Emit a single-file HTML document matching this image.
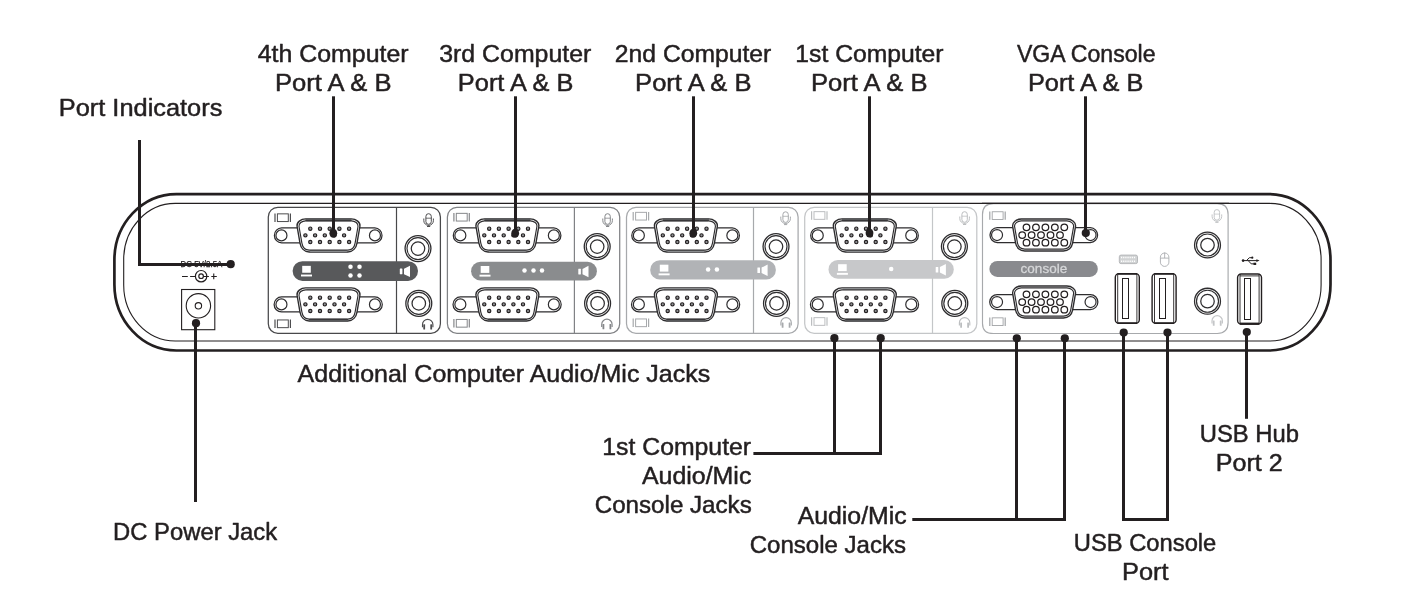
<!DOCTYPE html>
<html lang="en"><head><meta charset="utf-8"><title>KVM switch rear panel</title>
<style>html,body{margin:0;padding:0;background:#fff;overflow:hidden}svg{display:block}text{font-family:"Liberation Sans",sans-serif;fill:#231f20}</style>
</head><body>
<svg width="1402" height="612" viewBox="0 0 1402 612" style="will-change:transform">
<rect width="1402" height="612" fill="#fff"/>
<g id="device">
<rect x="114.4" y="194.1" width="1216.1" height="156.4" rx="62" ry="66" fill="#fff" stroke="#231f20" stroke-width="2.7"/>
<rect x="123.7" y="203.4" width="1197.4" height="137.6" rx="51.5" ry="56" fill="none" stroke="#231f20" stroke-width="1.1"/>
</g>
<g id="dc">
<text x="180.5" y="267.1" font-size="8.6" textLength="41.9" lengthAdjust="spacingAndGlyphs" stroke="#231f20" stroke-width="0.25">DC 5V/2.5A</text>
<g fill="none" stroke="#231f20" stroke-width="1.2">
<path d="M182 276.45h5.8M190.1 276.45H195.4M203.4 276.45H208.9M211.3 276.45h5.5M213.75 273.5v5.7" stroke-width="1.1"/>
<circle cx="201.1" cy="276.2" r="5.7"/><circle cx="201.1" cy="276.2" r="2.3"/>
</g>
<g fill="none" stroke="#231f20" stroke-width="1.1">
<rect x="181.6" y="289.5" width="33.2" height="40.2" fill="#fff"/>
<circle cx="198.4" cy="305.8" r="12.2"/><circle cx="198.4" cy="305.8" r="3.2"/>
</g></g>
<g id="module1">
<rect x="268.3" y="207.4" width="172.1" height="125.9" rx="9.5" fill="#fff" stroke="#48484a" stroke-width="1.25"/>
<path d="M396.5 207.4V333.3" stroke="#48484a" stroke-width="1.2" fill="none"/>
<g fill="none" stroke="#4d4d4f"><path d="M275 213.5v8.4M290.4 213.5v8.4" stroke-width="1.2"/><rect x="277.4" y="213.85" width="10.9" height="7.7" stroke-width="1.0"/></g>
<g fill="none" stroke="#4d4d4f"><path d="M275 319.6v8.4M290.4 319.6v8.4" stroke-width="1.2"/><rect x="277.4" y="319.95" width="10.9" height="7.7" stroke-width="1.0"/></g>
<g fill="none" stroke="#4d4d4f" stroke-width="1.0"><rect x="425.9" y="213.7" width="5.4" height="10.6" rx="2.7"/><path d="M425.9 218.2h5.4" stroke-width="0.8"/><path d="M423.8 218.5v2.1a4.8 4.8 0 0 0 9.6 0v-2.1"/><path d="M428.6 225.4v1.3M427 226.5h3.2"/></g>
<g fill="none" stroke="#4d4d4f" stroke-width="1.15"><path d="M422.5 327.2v-2.6a5.2 5.2 0 0 1 10.4 0v2.6"/></g><rect x="423.3" y="324.3" width="1.8" height="5.2" rx="0.5" fill="#4d4d4f"/><rect x="430.3" y="324.3" width="1.8" height="5.2" rx="0.5" fill="#4d4d4f"/>
<path d="M308.5 227.87H281.65A7.53 7.53 0 0 0 281.65 242.92H308.5" fill="#fff" stroke="#2e2d2f" stroke-width="1.25"/>
<path d="M348.5 227.87H374.75A7.53 7.53 0 0 1 374.75 242.92H348.5" fill="#fff" stroke="#2e2d2f" stroke-width="1.25"/>
<circle cx="281.45" cy="235.4" r="5.5" fill="#fff" stroke="#2e2d2f" stroke-width="1.2"/>
<circle cx="374.95" cy="235.4" r="5.5" fill="#fff" stroke="#2e2d2f" stroke-width="1.2"/>
<path d="M305.7 218.9L351.3 218.9C356.05 218.9 360.62 222.37 359.9 226.5L357 243.1C356.15 247.94 352.88 252 347.8 252L309.2 252C304.12 252 300.85 247.94 300 243.1L297.1 226.5C296.38 222.37 300.95 218.9 305.7 218.9Z" fill="#fff" stroke="#2e2d2f" stroke-width="1.4"/>
<path d="M306.6 219.9H350.4" stroke="#58595b" stroke-width="2.6" stroke-linecap="round" fill="none"/>
<path d="M310.1 251.1H346.9" stroke="#8a8c8e" stroke-width="1.6" fill="none"/>
<path d="M305.7 220.8L351.3 220.8C355 220.8 358.54 223.4 358 226.5L355.1 243.1C354.43 246.91 351.83 250.1 347.8 250.1L309.2 250.1C305.17 250.1 302.57 246.91 301.9 243.1L299 226.5C298.46 223.4 302 220.8 305.7 220.8Z" fill="none" stroke="#2e2d2f" stroke-width="1.15"/>
<circle cx="310.3" cy="228.65" r="1.65" fill="#939598" stroke="#231f20" stroke-width="1.15"/>
<circle cx="320" cy="228.65" r="1.65" fill="#939598" stroke="#231f20" stroke-width="1.15"/>
<circle cx="329.7" cy="228.65" r="1.65" fill="#939598" stroke="#231f20" stroke-width="1.15"/>
<circle cx="339.4" cy="228.65" r="1.65" fill="#939598" stroke="#231f20" stroke-width="1.15"/>
<circle cx="349.1" cy="228.65" r="1.65" fill="#939598" stroke="#231f20" stroke-width="1.15"/>
<circle cx="305.4" cy="235.35" r="1.65" fill="#939598" stroke="#231f20" stroke-width="1.15"/>
<circle cx="315.1" cy="235.35" r="1.65" fill="#939598" stroke="#231f20" stroke-width="1.15"/>
<circle cx="324.8" cy="235.35" r="1.65" fill="#939598" stroke="#231f20" stroke-width="1.15"/>
<circle cx="334.5" cy="235.35" r="1.65" fill="#939598" stroke="#231f20" stroke-width="1.15"/>
<circle cx="344.1" cy="235.35" r="1.65" fill="#939598" stroke="#231f20" stroke-width="1.15"/>
<circle cx="310.3" cy="242.05" r="1.65" fill="#939598" stroke="#231f20" stroke-width="1.15"/>
<circle cx="320" cy="242.05" r="1.65" fill="#939598" stroke="#231f20" stroke-width="1.15"/>
<circle cx="329.7" cy="242.05" r="1.65" fill="#939598" stroke="#231f20" stroke-width="1.15"/>
<circle cx="339.4" cy="242.05" r="1.65" fill="#939598" stroke="#231f20" stroke-width="1.15"/>
<circle cx="349.1" cy="242.05" r="1.65" fill="#939598" stroke="#231f20" stroke-width="1.15"/>
<path d="M308.5 296.88H281.65A7.52 7.52 0 0 0 281.65 311.92H308.5" fill="#fff" stroke="#2e2d2f" stroke-width="1.25"/>
<path d="M348.5 296.88H374.75A7.52 7.52 0 0 1 374.75 311.92H348.5" fill="#fff" stroke="#2e2d2f" stroke-width="1.25"/>
<circle cx="281.45" cy="304.4" r="5.5" fill="#fff" stroke="#2e2d2f" stroke-width="1.2"/>
<circle cx="374.95" cy="304.4" r="5.5" fill="#fff" stroke="#2e2d2f" stroke-width="1.2"/>
<path d="M305.7 287.9L351.3 287.9C356.05 287.9 360.62 291.37 359.9 295.5L357 312.1C356.15 316.94 352.88 321 347.8 321L309.2 321C304.12 321 300.85 316.94 300 312.1L297.1 295.5C296.38 291.37 300.95 287.9 305.7 287.9Z" fill="#fff" stroke="#2e2d2f" stroke-width="1.4"/>
<path d="M310.1 320H346.9" stroke="#58595b" stroke-width="2.6" stroke-linecap="round" fill="none"/>
<path d="M306.6 288.8H350.4" stroke="#8a8c8e" stroke-width="1.6" fill="none"/>
<path d="M305.7 289.8L351.3 289.8C355 289.8 358.54 292.4 358 295.5L355.1 312.1C354.43 315.91 351.83 319.1 347.8 319.1L309.2 319.1C305.17 319.1 302.57 315.91 301.9 312.1L299 295.5C298.46 292.4 302 289.8 305.7 289.8Z" fill="none" stroke="#2e2d2f" stroke-width="1.15"/>
<circle cx="310.3" cy="297.65" r="1.65" fill="#939598" stroke="#231f20" stroke-width="1.15"/>
<circle cx="320" cy="297.65" r="1.65" fill="#939598" stroke="#231f20" stroke-width="1.15"/>
<circle cx="329.7" cy="297.65" r="1.65" fill="#939598" stroke="#231f20" stroke-width="1.15"/>
<circle cx="339.4" cy="297.65" r="1.65" fill="#939598" stroke="#231f20" stroke-width="1.15"/>
<circle cx="349.1" cy="297.65" r="1.65" fill="#939598" stroke="#231f20" stroke-width="1.15"/>
<circle cx="305.4" cy="304.35" r="1.65" fill="#939598" stroke="#231f20" stroke-width="1.15"/>
<circle cx="315.1" cy="304.35" r="1.65" fill="#939598" stroke="#231f20" stroke-width="1.15"/>
<circle cx="324.8" cy="304.35" r="1.65" fill="#939598" stroke="#231f20" stroke-width="1.15"/>
<circle cx="334.5" cy="304.35" r="1.65" fill="#939598" stroke="#231f20" stroke-width="1.15"/>
<circle cx="344.1" cy="304.35" r="1.65" fill="#939598" stroke="#231f20" stroke-width="1.15"/>
<circle cx="310.3" cy="311.05" r="1.65" fill="#939598" stroke="#231f20" stroke-width="1.15"/>
<circle cx="320" cy="311.05" r="1.65" fill="#939598" stroke="#231f20" stroke-width="1.15"/>
<circle cx="329.7" cy="311.05" r="1.65" fill="#939598" stroke="#231f20" stroke-width="1.15"/>
<circle cx="339.4" cy="311.05" r="1.65" fill="#939598" stroke="#231f20" stroke-width="1.15"/>
<circle cx="349.1" cy="311.05" r="1.65" fill="#939598" stroke="#231f20" stroke-width="1.15"/>
<circle cx="418" cy="248.6" r="12.95" fill="#fff" stroke="#2e2d2f" stroke-width="1.3"/>
<circle cx="418" cy="248.6" r="11" fill="none" stroke="#2e2d2f" stroke-width="1.15"/>
<circle cx="418" cy="248.6" r="6.75" fill="none" stroke="#2e2d2f" stroke-width="1.25"/>
<circle cx="418.8" cy="303.4" r="12.95" fill="#fff" stroke="#2e2d2f" stroke-width="1.3"/>
<circle cx="418.8" cy="303.4" r="11" fill="none" stroke="#2e2d2f" stroke-width="1.15"/>
<circle cx="418.8" cy="303.4" r="6.75" fill="none" stroke="#2e2d2f" stroke-width="1.25"/>
<rect x="292.6" y="261.2" width="125.4" height="19.7" rx="9.85" fill="#58595b"/>
<g fill="#fff"><rect x="302.2" y="265.85" width="8.6" height="6.9"/><rect x="301" y="274.55" width="11" height="1.9"/><circle cx="350.5" cy="266.65" r="2.25"/><circle cx="359.5" cy="266.65" r="2.25"/><circle cx="350.5" cy="275.45" r="2.25"/><circle cx="359.5" cy="275.45" r="2.25"/><rect x="399.8" y="268.55" width="2.6" height="5.7" rx="0.4"/><path d="M404 268.75L410 265.65V277.05L404 274.15Z"/></g>
</g>
<g id="module2">
<rect x="447.4" y="207.4" width="172.3" height="125.9" rx="9.5" fill="#fff" stroke="#808285" stroke-width="1.25"/>
<path d="M574.4 207.4V333.3" stroke="#808285" stroke-width="1.2" fill="none"/>
<g fill="none" stroke="#85878a"><path d="M453.9 213v8.4M469.3 213v8.4" stroke-width="1.2"/><rect x="456.3" y="213.35" width="10.9" height="7.7" stroke-width="1.0"/></g>
<g fill="none" stroke="#85878a"><path d="M453.9 319.1v8.4M469.3 319.1v8.4" stroke-width="1.2"/><rect x="456.3" y="319.45" width="10.9" height="7.7" stroke-width="1.0"/></g>
<g fill="none" stroke="#85878a" stroke-width="1.0"><rect x="604.9" y="213.7" width="5.4" height="10.6" rx="2.7"/><path d="M604.9 218.2h5.4" stroke-width="0.8"/><path d="M602.8 218.5v2.1a4.8 4.8 0 0 0 9.6 0v-2.1"/><path d="M607.6 225.4v1.3M606 226.5h3.2"/></g>
<g fill="none" stroke="#85878a" stroke-width="1.15"><path d="M601.7 327v-2.6a5.2 5.2 0 0 1 10.4 0v2.6"/></g><rect x="602.5" y="324.1" width="1.8" height="5.2" rx="0.5" fill="#85878a"/><rect x="609.5" y="324.1" width="1.8" height="5.2" rx="0.5" fill="#85878a"/>
<path d="M487.4 227.87H460.55A7.53 7.53 0 0 0 460.55 242.92H487.4" fill="#fff" stroke="#2e2d2f" stroke-width="1.25"/>
<path d="M527.4 227.87H553.65A7.53 7.53 0 0 1 553.65 242.92H527.4" fill="#fff" stroke="#2e2d2f" stroke-width="1.25"/>
<circle cx="460.35" cy="235.4" r="5.5" fill="#fff" stroke="#2e2d2f" stroke-width="1.2"/>
<circle cx="553.85" cy="235.4" r="5.5" fill="#fff" stroke="#2e2d2f" stroke-width="1.2"/>
<path d="M484.6 218.9L530.2 218.9C534.95 218.9 539.52 222.37 538.8 226.5L535.9 243.1C535.05 247.94 531.78 252 526.7 252L488.1 252C483.02 252 479.75 247.94 478.9 243.1L476 226.5C475.28 222.37 479.85 218.9 484.6 218.9Z" fill="#fff" stroke="#2e2d2f" stroke-width="1.4"/>
<path d="M485.5 219.9H529.3" stroke="#58595b" stroke-width="2.6" stroke-linecap="round" fill="none"/>
<path d="M489 251.1H525.8" stroke="#8a8c8e" stroke-width="1.6" fill="none"/>
<path d="M484.6 220.8L530.2 220.8C533.9 220.8 537.44 223.4 536.9 226.5L534 243.1C533.33 246.91 530.73 250.1 526.7 250.1L488.1 250.1C484.07 250.1 481.47 246.91 480.8 243.1L477.9 226.5C477.36 223.4 480.9 220.8 484.6 220.8Z" fill="none" stroke="#2e2d2f" stroke-width="1.15"/>
<circle cx="489.2" cy="228.65" r="1.65" fill="#939598" stroke="#231f20" stroke-width="1.15"/>
<circle cx="498.9" cy="228.65" r="1.65" fill="#939598" stroke="#231f20" stroke-width="1.15"/>
<circle cx="508.6" cy="228.65" r="1.65" fill="#939598" stroke="#231f20" stroke-width="1.15"/>
<circle cx="518.3" cy="228.65" r="1.65" fill="#939598" stroke="#231f20" stroke-width="1.15"/>
<circle cx="528" cy="228.65" r="1.65" fill="#939598" stroke="#231f20" stroke-width="1.15"/>
<circle cx="484.3" cy="235.35" r="1.65" fill="#939598" stroke="#231f20" stroke-width="1.15"/>
<circle cx="494" cy="235.35" r="1.65" fill="#939598" stroke="#231f20" stroke-width="1.15"/>
<circle cx="503.7" cy="235.35" r="1.65" fill="#939598" stroke="#231f20" stroke-width="1.15"/>
<circle cx="513.4" cy="235.35" r="1.65" fill="#939598" stroke="#231f20" stroke-width="1.15"/>
<circle cx="523" cy="235.35" r="1.65" fill="#939598" stroke="#231f20" stroke-width="1.15"/>
<circle cx="489.2" cy="242.05" r="1.65" fill="#939598" stroke="#231f20" stroke-width="1.15"/>
<circle cx="498.9" cy="242.05" r="1.65" fill="#939598" stroke="#231f20" stroke-width="1.15"/>
<circle cx="508.6" cy="242.05" r="1.65" fill="#939598" stroke="#231f20" stroke-width="1.15"/>
<circle cx="518.3" cy="242.05" r="1.65" fill="#939598" stroke="#231f20" stroke-width="1.15"/>
<circle cx="528" cy="242.05" r="1.65" fill="#939598" stroke="#231f20" stroke-width="1.15"/>
<path d="M487.4 296.88H460.55A7.52 7.52 0 0 0 460.55 311.92H487.4" fill="#fff" stroke="#2e2d2f" stroke-width="1.25"/>
<path d="M527.4 296.88H553.65A7.52 7.52 0 0 1 553.65 311.92H527.4" fill="#fff" stroke="#2e2d2f" stroke-width="1.25"/>
<circle cx="460.35" cy="304.4" r="5.5" fill="#fff" stroke="#2e2d2f" stroke-width="1.2"/>
<circle cx="553.85" cy="304.4" r="5.5" fill="#fff" stroke="#2e2d2f" stroke-width="1.2"/>
<path d="M484.6 287.9L530.2 287.9C534.95 287.9 539.52 291.37 538.8 295.5L535.9 312.1C535.05 316.94 531.78 321 526.7 321L488.1 321C483.02 321 479.75 316.94 478.9 312.1L476 295.5C475.28 291.37 479.85 287.9 484.6 287.9Z" fill="#fff" stroke="#2e2d2f" stroke-width="1.4"/>
<path d="M489 320H525.8" stroke="#58595b" stroke-width="2.6" stroke-linecap="round" fill="none"/>
<path d="M485.5 288.8H529.3" stroke="#8a8c8e" stroke-width="1.6" fill="none"/>
<path d="M484.6 289.8L530.2 289.8C533.9 289.8 537.44 292.4 536.9 295.5L534 312.1C533.33 315.91 530.73 319.1 526.7 319.1L488.1 319.1C484.07 319.1 481.47 315.91 480.8 312.1L477.9 295.5C477.36 292.4 480.9 289.8 484.6 289.8Z" fill="none" stroke="#2e2d2f" stroke-width="1.15"/>
<circle cx="489.2" cy="297.65" r="1.65" fill="#939598" stroke="#231f20" stroke-width="1.15"/>
<circle cx="498.9" cy="297.65" r="1.65" fill="#939598" stroke="#231f20" stroke-width="1.15"/>
<circle cx="508.6" cy="297.65" r="1.65" fill="#939598" stroke="#231f20" stroke-width="1.15"/>
<circle cx="518.3" cy="297.65" r="1.65" fill="#939598" stroke="#231f20" stroke-width="1.15"/>
<circle cx="528" cy="297.65" r="1.65" fill="#939598" stroke="#231f20" stroke-width="1.15"/>
<circle cx="484.3" cy="304.35" r="1.65" fill="#939598" stroke="#231f20" stroke-width="1.15"/>
<circle cx="494" cy="304.35" r="1.65" fill="#939598" stroke="#231f20" stroke-width="1.15"/>
<circle cx="503.7" cy="304.35" r="1.65" fill="#939598" stroke="#231f20" stroke-width="1.15"/>
<circle cx="513.4" cy="304.35" r="1.65" fill="#939598" stroke="#231f20" stroke-width="1.15"/>
<circle cx="523" cy="304.35" r="1.65" fill="#939598" stroke="#231f20" stroke-width="1.15"/>
<circle cx="489.2" cy="311.05" r="1.65" fill="#939598" stroke="#231f20" stroke-width="1.15"/>
<circle cx="498.9" cy="311.05" r="1.65" fill="#939598" stroke="#231f20" stroke-width="1.15"/>
<circle cx="508.6" cy="311.05" r="1.65" fill="#939598" stroke="#231f20" stroke-width="1.15"/>
<circle cx="518.3" cy="311.05" r="1.65" fill="#939598" stroke="#231f20" stroke-width="1.15"/>
<circle cx="528" cy="311.05" r="1.65" fill="#939598" stroke="#231f20" stroke-width="1.15"/>
<circle cx="597.2" cy="246.6" r="12.95" fill="#fff" stroke="#2e2d2f" stroke-width="1.3"/>
<circle cx="597.2" cy="246.6" r="11" fill="none" stroke="#2e2d2f" stroke-width="1.15"/>
<circle cx="597.2" cy="246.6" r="6.75" fill="none" stroke="#2e2d2f" stroke-width="1.25"/>
<circle cx="597.6" cy="303.4" r="12.95" fill="#fff" stroke="#2e2d2f" stroke-width="1.3"/>
<circle cx="597.6" cy="303.4" r="11" fill="none" stroke="#2e2d2f" stroke-width="1.15"/>
<circle cx="597.6" cy="303.4" r="6.75" fill="none" stroke="#2e2d2f" stroke-width="1.25"/>
<rect x="471.1" y="261.8" width="125.8" height="18.8" rx="9.4" fill="#8a8c8e"/>
<g fill="#fff"><rect x="480.7" y="266" width="8.6" height="6.9"/><rect x="479.5" y="274.7" width="11" height="1.9"/><circle cx="524.5" cy="270.6" r="2.25"/><circle cx="533.5" cy="270.6" r="2.25"/><circle cx="542" cy="270.6" r="2.25"/><rect x="578.3" y="268.7" width="2.6" height="5.7" rx="0.4"/><path d="M582.5 268.9L588.5 265.8V277.2L582.5 274.3Z"/></g>
</g>
<g id="module3">
<rect x="626.5" y="207.4" width="171.6" height="125.9" rx="9.5" fill="#fff" stroke="#a7a9ac" stroke-width="1.25"/>
<path d="M753.5 207.4V333.3" stroke="#a7a9ac" stroke-width="1.2" fill="none"/>
<g fill="none" stroke="#a7a9ac"><path d="M633.2 212v8.4M648.6 212v8.4" stroke-width="1.2"/><rect x="635.6" y="212.35" width="10.9" height="7.7" stroke-width="1.0"/></g>
<g fill="none" stroke="#a7a9ac"><path d="M633.2 318.6v8.4M648.6 318.6v8.4" stroke-width="1.2"/><rect x="635.6" y="318.95" width="10.9" height="7.7" stroke-width="1.0"/></g>
<g fill="none" stroke="#a7a9ac" stroke-width="1.0"><rect x="782.9" y="211.8" width="5.4" height="10.6" rx="2.7"/><path d="M782.9 216.3h5.4" stroke-width="0.8"/><path d="M780.8 216.6v2.1a4.8 4.8 0 0 0 9.6 0v-2.1"/><path d="M785.6 223.5v1.3M784 224.6h3.2"/></g>
<g fill="none" stroke="#a7a9ac" stroke-width="1.15"><path d="M780.9 325.4v-2.6a5.2 5.2 0 0 1 10.4 0v2.6"/></g><rect x="781.7" y="322.5" width="1.8" height="5.2" rx="0.5" fill="#a7a9ac"/><rect x="788.7" y="322.5" width="1.8" height="5.2" rx="0.5" fill="#a7a9ac"/>
<path d="M665.9 227.87H639.05A7.53 7.53 0 0 0 639.05 242.92H665.9" fill="#fff" stroke="#2e2d2f" stroke-width="1.25"/>
<path d="M705.9 227.87H732.15A7.53 7.53 0 0 1 732.15 242.92H705.9" fill="#fff" stroke="#2e2d2f" stroke-width="1.25"/>
<circle cx="638.85" cy="235.4" r="5.5" fill="#fff" stroke="#2e2d2f" stroke-width="1.2"/>
<circle cx="732.35" cy="235.4" r="5.5" fill="#fff" stroke="#2e2d2f" stroke-width="1.2"/>
<path d="M663.1 218.9L708.7 218.9C713.45 218.9 718.02 222.37 717.3 226.5L714.4 243.1C713.55 247.94 710.28 252 705.2 252L666.6 252C661.52 252 658.25 247.94 657.4 243.1L654.5 226.5C653.78 222.37 658.35 218.9 663.1 218.9Z" fill="#fff" stroke="#2e2d2f" stroke-width="1.4"/>
<path d="M664 219.9H707.8" stroke="#58595b" stroke-width="2.6" stroke-linecap="round" fill="none"/>
<path d="M667.5 251.1H704.3" stroke="#8a8c8e" stroke-width="1.6" fill="none"/>
<path d="M663.1 220.8L708.7 220.8C712.4 220.8 715.94 223.4 715.4 226.5L712.5 243.1C711.83 246.91 709.23 250.1 705.2 250.1L666.6 250.1C662.57 250.1 659.97 246.91 659.3 243.1L656.4 226.5C655.86 223.4 659.4 220.8 663.1 220.8Z" fill="none" stroke="#2e2d2f" stroke-width="1.15"/>
<circle cx="667.7" cy="228.65" r="1.65" fill="#939598" stroke="#231f20" stroke-width="1.15"/>
<circle cx="677.4" cy="228.65" r="1.65" fill="#939598" stroke="#231f20" stroke-width="1.15"/>
<circle cx="687.1" cy="228.65" r="1.65" fill="#939598" stroke="#231f20" stroke-width="1.15"/>
<circle cx="696.8" cy="228.65" r="1.65" fill="#939598" stroke="#231f20" stroke-width="1.15"/>
<circle cx="706.5" cy="228.65" r="1.65" fill="#939598" stroke="#231f20" stroke-width="1.15"/>
<circle cx="662.8" cy="235.35" r="1.65" fill="#939598" stroke="#231f20" stroke-width="1.15"/>
<circle cx="672.5" cy="235.35" r="1.65" fill="#939598" stroke="#231f20" stroke-width="1.15"/>
<circle cx="682.2" cy="235.35" r="1.65" fill="#939598" stroke="#231f20" stroke-width="1.15"/>
<circle cx="691.9" cy="235.35" r="1.65" fill="#939598" stroke="#231f20" stroke-width="1.15"/>
<circle cx="701.5" cy="235.35" r="1.65" fill="#939598" stroke="#231f20" stroke-width="1.15"/>
<circle cx="667.7" cy="242.05" r="1.65" fill="#939598" stroke="#231f20" stroke-width="1.15"/>
<circle cx="677.4" cy="242.05" r="1.65" fill="#939598" stroke="#231f20" stroke-width="1.15"/>
<circle cx="687.1" cy="242.05" r="1.65" fill="#939598" stroke="#231f20" stroke-width="1.15"/>
<circle cx="696.8" cy="242.05" r="1.65" fill="#939598" stroke="#231f20" stroke-width="1.15"/>
<circle cx="706.5" cy="242.05" r="1.65" fill="#939598" stroke="#231f20" stroke-width="1.15"/>
<path d="M665.9 296.88H639.05A7.52 7.52 0 0 0 639.05 311.92H665.9" fill="#fff" stroke="#2e2d2f" stroke-width="1.25"/>
<path d="M705.9 296.88H732.15A7.52 7.52 0 0 1 732.15 311.92H705.9" fill="#fff" stroke="#2e2d2f" stroke-width="1.25"/>
<circle cx="638.85" cy="304.4" r="5.5" fill="#fff" stroke="#2e2d2f" stroke-width="1.2"/>
<circle cx="732.35" cy="304.4" r="5.5" fill="#fff" stroke="#2e2d2f" stroke-width="1.2"/>
<path d="M663.1 287.9L708.7 287.9C713.45 287.9 718.02 291.37 717.3 295.5L714.4 312.1C713.55 316.94 710.28 321 705.2 321L666.6 321C661.52 321 658.25 316.94 657.4 312.1L654.5 295.5C653.78 291.37 658.35 287.9 663.1 287.9Z" fill="#fff" stroke="#2e2d2f" stroke-width="1.4"/>
<path d="M667.5 320H704.3" stroke="#58595b" stroke-width="2.6" stroke-linecap="round" fill="none"/>
<path d="M664 288.8H707.8" stroke="#8a8c8e" stroke-width="1.6" fill="none"/>
<path d="M663.1 289.8L708.7 289.8C712.4 289.8 715.94 292.4 715.4 295.5L712.5 312.1C711.83 315.91 709.23 319.1 705.2 319.1L666.6 319.1C662.57 319.1 659.97 315.91 659.3 312.1L656.4 295.5C655.86 292.4 659.4 289.8 663.1 289.8Z" fill="none" stroke="#2e2d2f" stroke-width="1.15"/>
<circle cx="667.7" cy="297.65" r="1.65" fill="#939598" stroke="#231f20" stroke-width="1.15"/>
<circle cx="677.4" cy="297.65" r="1.65" fill="#939598" stroke="#231f20" stroke-width="1.15"/>
<circle cx="687.1" cy="297.65" r="1.65" fill="#939598" stroke="#231f20" stroke-width="1.15"/>
<circle cx="696.8" cy="297.65" r="1.65" fill="#939598" stroke="#231f20" stroke-width="1.15"/>
<circle cx="706.5" cy="297.65" r="1.65" fill="#939598" stroke="#231f20" stroke-width="1.15"/>
<circle cx="662.8" cy="304.35" r="1.65" fill="#939598" stroke="#231f20" stroke-width="1.15"/>
<circle cx="672.5" cy="304.35" r="1.65" fill="#939598" stroke="#231f20" stroke-width="1.15"/>
<circle cx="682.2" cy="304.35" r="1.65" fill="#939598" stroke="#231f20" stroke-width="1.15"/>
<circle cx="691.9" cy="304.35" r="1.65" fill="#939598" stroke="#231f20" stroke-width="1.15"/>
<circle cx="701.5" cy="304.35" r="1.65" fill="#939598" stroke="#231f20" stroke-width="1.15"/>
<circle cx="667.7" cy="311.05" r="1.65" fill="#939598" stroke="#231f20" stroke-width="1.15"/>
<circle cx="677.4" cy="311.05" r="1.65" fill="#939598" stroke="#231f20" stroke-width="1.15"/>
<circle cx="687.1" cy="311.05" r="1.65" fill="#939598" stroke="#231f20" stroke-width="1.15"/>
<circle cx="696.8" cy="311.05" r="1.65" fill="#939598" stroke="#231f20" stroke-width="1.15"/>
<circle cx="706.5" cy="311.05" r="1.65" fill="#939598" stroke="#231f20" stroke-width="1.15"/>
<circle cx="776" cy="246.6" r="12.95" fill="#fff" stroke="#2e2d2f" stroke-width="1.3"/>
<circle cx="776" cy="246.6" r="11" fill="none" stroke="#2e2d2f" stroke-width="1.15"/>
<circle cx="776" cy="246.6" r="6.75" fill="none" stroke="#2e2d2f" stroke-width="1.25"/>
<circle cx="776.5" cy="303.4" r="12.95" fill="#fff" stroke="#2e2d2f" stroke-width="1.3"/>
<circle cx="776.5" cy="303.4" r="11" fill="none" stroke="#2e2d2f" stroke-width="1.15"/>
<circle cx="776.5" cy="303.4" r="6.75" fill="none" stroke="#2e2d2f" stroke-width="1.25"/>
<rect x="650.2" y="260.2" width="125.7" height="19.4" rx="9.7" fill="#b1b3b6"/>
<g fill="#fff"><rect x="659.8" y="264.7" width="8.6" height="6.9"/><rect x="658.6" y="273.4" width="11" height="1.9"/><circle cx="708.1" cy="269.6" r="2.25"/><circle cx="716.9" cy="269.6" r="2.25"/><rect x="757.4" y="267.4" width="2.6" height="5.7" rx="0.4"/><path d="M761.6 267.6L767.6 264.5V275.9L761.6 273Z"/></g>
</g>
<g id="module4">
<rect x="804.7" y="207.4" width="172.1" height="125.9" rx="9.5" fill="#fff" stroke="#c4c6c8" stroke-width="1.25"/>
<path d="M932.5 207.4V333.3" stroke="#c4c6c8" stroke-width="1.2" fill="none"/>
<g fill="none" stroke="#bcbec0"><path d="M811.6 211.3v8.4M827 211.3v8.4" stroke-width="1.2"/><rect x="814" y="211.65" width="10.9" height="7.7" stroke-width="1.0"/></g>
<g fill="none" stroke="#bcbec0"><path d="M811.6 317.3v8.4M827 317.3v8.4" stroke-width="1.2"/><rect x="814" y="317.65" width="10.9" height="7.7" stroke-width="1.0"/></g>
<g fill="none" stroke="#bcbec0" stroke-width="1.0"><rect x="961.9" y="211.7" width="5.4" height="10.6" rx="2.7"/><path d="M961.9 216.2h5.4" stroke-width="0.8"/><path d="M959.8 216.5v2.1a4.8 4.8 0 0 0 9.6 0v-2.1"/><path d="M964.6 223.4v1.3M963 224.5h3.2"/></g>
<g fill="none" stroke="#bcbec0" stroke-width="1.15"><path d="M959.4 325.4v-2.6a5.2 5.2 0 0 1 10.4 0v2.6"/></g><rect x="960.2" y="322.5" width="1.8" height="5.2" rx="0.5" fill="#bcbec0"/><rect x="967.2" y="322.5" width="1.8" height="5.2" rx="0.5" fill="#bcbec0"/>
<path d="M844.8 227.87H817.95A7.53 7.53 0 0 0 817.95 242.92H844.8" fill="#fff" stroke="#2e2d2f" stroke-width="1.25"/>
<path d="M884.8 227.87H911.05A7.53 7.53 0 0 1 911.05 242.92H884.8" fill="#fff" stroke="#2e2d2f" stroke-width="1.25"/>
<circle cx="817.75" cy="235.4" r="5.5" fill="#fff" stroke="#2e2d2f" stroke-width="1.2"/>
<circle cx="911.25" cy="235.4" r="5.5" fill="#fff" stroke="#2e2d2f" stroke-width="1.2"/>
<path d="M842 218.9L887.6 218.9C892.35 218.9 896.92 222.37 896.2 226.5L893.3 243.1C892.45 247.94 889.18 252 884.1 252L845.5 252C840.42 252 837.15 247.94 836.3 243.1L833.4 226.5C832.68 222.37 837.25 218.9 842 218.9Z" fill="#fff" stroke="#2e2d2f" stroke-width="1.4"/>
<path d="M842.9 219.9H886.7" stroke="#58595b" stroke-width="2.6" stroke-linecap="round" fill="none"/>
<path d="M846.4 251.1H883.2" stroke="#8a8c8e" stroke-width="1.6" fill="none"/>
<path d="M842 220.8L887.6 220.8C891.3 220.8 894.84 223.4 894.3 226.5L891.4 243.1C890.73 246.91 888.13 250.1 884.1 250.1L845.5 250.1C841.47 250.1 838.87 246.91 838.2 243.1L835.3 226.5C834.76 223.4 838.3 220.8 842 220.8Z" fill="none" stroke="#2e2d2f" stroke-width="1.15"/>
<circle cx="846.6" cy="228.65" r="1.65" fill="#939598" stroke="#231f20" stroke-width="1.15"/>
<circle cx="856.3" cy="228.65" r="1.65" fill="#939598" stroke="#231f20" stroke-width="1.15"/>
<circle cx="866" cy="228.65" r="1.65" fill="#939598" stroke="#231f20" stroke-width="1.15"/>
<circle cx="875.7" cy="228.65" r="1.65" fill="#939598" stroke="#231f20" stroke-width="1.15"/>
<circle cx="885.4" cy="228.65" r="1.65" fill="#939598" stroke="#231f20" stroke-width="1.15"/>
<circle cx="841.7" cy="235.35" r="1.65" fill="#939598" stroke="#231f20" stroke-width="1.15"/>
<circle cx="851.4" cy="235.35" r="1.65" fill="#939598" stroke="#231f20" stroke-width="1.15"/>
<circle cx="861.1" cy="235.35" r="1.65" fill="#939598" stroke="#231f20" stroke-width="1.15"/>
<circle cx="870.8" cy="235.35" r="1.65" fill="#939598" stroke="#231f20" stroke-width="1.15"/>
<circle cx="880.4" cy="235.35" r="1.65" fill="#939598" stroke="#231f20" stroke-width="1.15"/>
<circle cx="846.6" cy="242.05" r="1.65" fill="#939598" stroke="#231f20" stroke-width="1.15"/>
<circle cx="856.3" cy="242.05" r="1.65" fill="#939598" stroke="#231f20" stroke-width="1.15"/>
<circle cx="866" cy="242.05" r="1.65" fill="#939598" stroke="#231f20" stroke-width="1.15"/>
<circle cx="875.7" cy="242.05" r="1.65" fill="#939598" stroke="#231f20" stroke-width="1.15"/>
<circle cx="885.4" cy="242.05" r="1.65" fill="#939598" stroke="#231f20" stroke-width="1.15"/>
<path d="M844.8 296.88H817.95A7.52 7.52 0 0 0 817.95 311.92H844.8" fill="#fff" stroke="#2e2d2f" stroke-width="1.25"/>
<path d="M884.8 296.88H911.05A7.52 7.52 0 0 1 911.05 311.92H884.8" fill="#fff" stroke="#2e2d2f" stroke-width="1.25"/>
<circle cx="817.75" cy="304.4" r="5.5" fill="#fff" stroke="#2e2d2f" stroke-width="1.2"/>
<circle cx="911.25" cy="304.4" r="5.5" fill="#fff" stroke="#2e2d2f" stroke-width="1.2"/>
<path d="M842 287.9L887.6 287.9C892.35 287.9 896.92 291.37 896.2 295.5L893.3 312.1C892.45 316.94 889.18 321 884.1 321L845.5 321C840.42 321 837.15 316.94 836.3 312.1L833.4 295.5C832.68 291.37 837.25 287.9 842 287.9Z" fill="#fff" stroke="#2e2d2f" stroke-width="1.4"/>
<path d="M846.4 320H883.2" stroke="#58595b" stroke-width="2.6" stroke-linecap="round" fill="none"/>
<path d="M842.9 288.8H886.7" stroke="#8a8c8e" stroke-width="1.6" fill="none"/>
<path d="M842 289.8L887.6 289.8C891.3 289.8 894.84 292.4 894.3 295.5L891.4 312.1C890.73 315.91 888.13 319.1 884.1 319.1L845.5 319.1C841.47 319.1 838.87 315.91 838.2 312.1L835.3 295.5C834.76 292.4 838.3 289.8 842 289.8Z" fill="none" stroke="#2e2d2f" stroke-width="1.15"/>
<circle cx="846.6" cy="297.65" r="1.65" fill="#939598" stroke="#231f20" stroke-width="1.15"/>
<circle cx="856.3" cy="297.65" r="1.65" fill="#939598" stroke="#231f20" stroke-width="1.15"/>
<circle cx="866" cy="297.65" r="1.65" fill="#939598" stroke="#231f20" stroke-width="1.15"/>
<circle cx="875.7" cy="297.65" r="1.65" fill="#939598" stroke="#231f20" stroke-width="1.15"/>
<circle cx="885.4" cy="297.65" r="1.65" fill="#939598" stroke="#231f20" stroke-width="1.15"/>
<circle cx="841.7" cy="304.35" r="1.65" fill="#939598" stroke="#231f20" stroke-width="1.15"/>
<circle cx="851.4" cy="304.35" r="1.65" fill="#939598" stroke="#231f20" stroke-width="1.15"/>
<circle cx="861.1" cy="304.35" r="1.65" fill="#939598" stroke="#231f20" stroke-width="1.15"/>
<circle cx="870.8" cy="304.35" r="1.65" fill="#939598" stroke="#231f20" stroke-width="1.15"/>
<circle cx="880.4" cy="304.35" r="1.65" fill="#939598" stroke="#231f20" stroke-width="1.15"/>
<circle cx="846.6" cy="311.05" r="1.65" fill="#939598" stroke="#231f20" stroke-width="1.15"/>
<circle cx="856.3" cy="311.05" r="1.65" fill="#939598" stroke="#231f20" stroke-width="1.15"/>
<circle cx="866" cy="311.05" r="1.65" fill="#939598" stroke="#231f20" stroke-width="1.15"/>
<circle cx="875.7" cy="311.05" r="1.65" fill="#939598" stroke="#231f20" stroke-width="1.15"/>
<circle cx="885.4" cy="311.05" r="1.65" fill="#939598" stroke="#231f20" stroke-width="1.15"/>
<circle cx="954.4" cy="246.6" r="12.95" fill="#fff" stroke="#2e2d2f" stroke-width="1.3"/>
<circle cx="954.4" cy="246.6" r="11" fill="none" stroke="#2e2d2f" stroke-width="1.15"/>
<circle cx="954.4" cy="246.6" r="6.75" fill="none" stroke="#2e2d2f" stroke-width="1.25"/>
<circle cx="954.8" cy="303.4" r="12.95" fill="#fff" stroke="#2e2d2f" stroke-width="1.3"/>
<circle cx="954.8" cy="303.4" r="11" fill="none" stroke="#2e2d2f" stroke-width="1.15"/>
<circle cx="954.8" cy="303.4" r="6.75" fill="none" stroke="#2e2d2f" stroke-width="1.25"/>
<rect x="828.5" y="260" width="125.3" height="18.8" rx="9.4" fill="#c7c8ca"/>
<g fill="#fff"><rect x="838.1" y="264.2" width="8.6" height="6.9"/><rect x="836.9" y="272.9" width="11" height="1.9"/><circle cx="891.2" cy="269" r="2.25"/><rect x="935.7" y="266.9" width="2.6" height="5.7" rx="0.4"/><path d="M939.9 267.1L945.9 264V275.4L939.9 272.5Z"/></g>
</g>
<g id="console">
<path d="M982.5 323.4V214.4Q982.5 203.6 993.5 203.6H1217.2Q1228.1 203.6 1228.1 214.4V322.6Q1228.1 333.5 1217.2 333.5H993.5Q982.5 333.5 982.5 323.4Z" fill="#fff" stroke="#a7a9ac" stroke-width="1.15"/>
<path d="M982 203.4H1229" stroke="#231f20" stroke-width="1.1" fill="none"/>
<g fill="none" stroke="#a1a3a6"><path d="M989.8 211.4v8.4M1005.2 211.4v8.4" stroke-width="1.2"/><rect x="992.2" y="211.75" width="10.9" height="7.7" stroke-width="0.9"/></g>
<g fill="none" stroke="#a1a3a6"><path d="M989.8 317.5v8.4M1005.2 317.5v8.4" stroke-width="1.2"/><rect x="992.2" y="317.85" width="10.9" height="7.7" stroke-width="0.9"/></g>
<path d="M1024.1 227.53H997.25A7.53 7.53 0 0 0 997.25 242.58H1024.1" fill="#fff" stroke="#2e2d2f" stroke-width="1.25"/>
<path d="M1064.1 227.53H1090.35A7.53 7.53 0 0 1 1090.35 242.58H1064.1" fill="#fff" stroke="#2e2d2f" stroke-width="1.25"/>
<circle cx="997.05" cy="235.05" r="5.5" fill="#fff" stroke="#2e2d2f" stroke-width="1.2"/>
<circle cx="1090.55" cy="235.05" r="5.5" fill="#fff" stroke="#2e2d2f" stroke-width="1.2"/>
<path d="M1021.3 219L1066.9 219C1071.65 219 1076.22 222.47 1075.5 226.6L1072.6 243.2C1071.86 247.44 1068.48 251 1063.4 251L1024.8 251C1019.72 251 1016.34 247.44 1015.6 243.2L1012.7 226.6C1011.98 222.47 1016.55 219 1021.3 219Z" fill="#fff" stroke="#2e2d2f" stroke-width="1.4"/>
<path d="M1021.3 220.9L1066.9 220.9C1070.6 220.9 1074.14 223.5 1073.6 226.6L1070.7 243.2C1070.14 246.41 1067.43 249.1 1063.4 249.1L1024.8 249.1C1020.77 249.1 1018.06 246.41 1017.5 243.2L1014.6 226.6C1014.06 223.5 1017.6 220.9 1021.3 220.9Z" fill="none" stroke="#2e2d2f" stroke-width="1.15"/>
<circle cx="1026.5" cy="227.3" r="3.3" fill="#fff" stroke="#231f20" stroke-width="1.25"/>
<circle cx="1035.95" cy="227.3" r="3.3" fill="#fff" stroke="#231f20" stroke-width="1.25"/>
<circle cx="1045.4" cy="227.3" r="3.3" fill="#fff" stroke="#231f20" stroke-width="1.25"/>
<circle cx="1054.85" cy="227.3" r="3.3" fill="#fff" stroke="#231f20" stroke-width="1.25"/>
<circle cx="1064.3" cy="227.3" r="3.3" fill="#fff" stroke="#231f20" stroke-width="1.25"/>
<circle cx="1022.2" cy="235.05" r="3.3" fill="#fff" stroke="#231f20" stroke-width="1.25"/>
<circle cx="1031.6" cy="235.05" r="3.3" fill="#fff" stroke="#231f20" stroke-width="1.25"/>
<circle cx="1041" cy="235.05" r="3.3" fill="#fff" stroke="#231f20" stroke-width="1.25"/>
<circle cx="1050.5" cy="235.05" r="3.3" fill="#fff" stroke="#231f20" stroke-width="1.25"/>
<circle cx="1060" cy="235.05" r="3.3" fill="#fff" stroke="#231f20" stroke-width="1.25"/>
<circle cx="1026.5" cy="242.65" r="3.3" fill="#fff" stroke="#231f20" stroke-width="1.25"/>
<circle cx="1035.95" cy="242.65" r="3.3" fill="#fff" stroke="#231f20" stroke-width="1.25"/>
<circle cx="1045.4" cy="242.65" r="3.3" fill="#fff" stroke="#231f20" stroke-width="1.25"/>
<circle cx="1054.85" cy="242.65" r="3.3" fill="#fff" stroke="#231f20" stroke-width="1.25"/>
<circle cx="1064.3" cy="242.65" r="3.3" fill="#fff" stroke="#231f20" stroke-width="1.25"/>
<path d="M1024.1 294.53H997.25A7.52 7.52 0 0 0 997.25 309.57H1024.1" fill="#fff" stroke="#2e2d2f" stroke-width="1.25"/>
<path d="M1064.1 294.53H1090.35A7.52 7.52 0 0 1 1090.35 309.57H1064.1" fill="#fff" stroke="#2e2d2f" stroke-width="1.25"/>
<circle cx="997.05" cy="302.05" r="5.5" fill="#fff" stroke="#2e2d2f" stroke-width="1.2"/>
<circle cx="1090.55" cy="302.05" r="5.5" fill="#fff" stroke="#2e2d2f" stroke-width="1.2"/>
<path d="M1021.3 286L1066.9 286C1071.65 286 1076.22 289.47 1075.5 293.6L1072.6 310.2C1071.86 314.44 1068.48 318 1063.4 318L1024.8 318C1019.72 318 1016.34 314.44 1015.6 310.2L1012.7 293.6C1011.98 289.47 1016.55 286 1021.3 286Z" fill="#fff" stroke="#2e2d2f" stroke-width="1.4"/>
<path d="M1021.3 287.9L1066.9 287.9C1070.6 287.9 1074.14 290.5 1073.6 293.6L1070.7 310.2C1070.14 313.41 1067.43 316.1 1063.4 316.1L1024.8 316.1C1020.77 316.1 1018.06 313.41 1017.5 310.2L1014.6 293.6C1014.06 290.5 1017.6 287.9 1021.3 287.9Z" fill="none" stroke="#2e2d2f" stroke-width="1.15"/>
<circle cx="1026.5" cy="294.3" r="3.3" fill="#fff" stroke="#231f20" stroke-width="1.25"/>
<circle cx="1035.95" cy="294.3" r="3.3" fill="#fff" stroke="#231f20" stroke-width="1.25"/>
<circle cx="1045.4" cy="294.3" r="3.3" fill="#fff" stroke="#231f20" stroke-width="1.25"/>
<circle cx="1054.85" cy="294.3" r="3.3" fill="#fff" stroke="#231f20" stroke-width="1.25"/>
<circle cx="1064.3" cy="294.3" r="3.3" fill="#fff" stroke="#231f20" stroke-width="1.25"/>
<circle cx="1022.2" cy="302.05" r="3.3" fill="#fff" stroke="#231f20" stroke-width="1.25"/>
<circle cx="1031.6" cy="302.05" r="3.3" fill="#fff" stroke="#231f20" stroke-width="1.25"/>
<circle cx="1041" cy="302.05" r="3.3" fill="#fff" stroke="#231f20" stroke-width="1.25"/>
<circle cx="1050.5" cy="302.05" r="3.3" fill="#fff" stroke="#231f20" stroke-width="1.25"/>
<circle cx="1060" cy="302.05" r="3.3" fill="#fff" stroke="#231f20" stroke-width="1.25"/>
<circle cx="1026.5" cy="309.65" r="3.3" fill="#fff" stroke="#231f20" stroke-width="1.25"/>
<circle cx="1035.95" cy="309.65" r="3.3" fill="#fff" stroke="#231f20" stroke-width="1.25"/>
<circle cx="1045.4" cy="309.65" r="3.3" fill="#fff" stroke="#231f20" stroke-width="1.25"/>
<circle cx="1054.85" cy="309.65" r="3.3" fill="#fff" stroke="#231f20" stroke-width="1.25"/>
<circle cx="1064.3" cy="309.65" r="3.3" fill="#fff" stroke="#231f20" stroke-width="1.25"/>
<rect x="989.4" y="260.9" width="108.4" height="16" rx="8" fill="#898a8e"/>
<text x="1043.9" y="272.9" font-size="13.2" text-anchor="middle" textLength="46.6" lengthAdjust="spacingAndGlyphs" style="fill:#d6d7d9;stroke:#d6d7d9;stroke-width:0.3">console</text>
<rect x="1119.3" y="255.1" width="18.2" height="8.5" rx="1.7" fill="#d1d3d4" stroke="#b1b3b5" stroke-width="0.9"/>
<path d="M1121 257.6h15M1121 261.2h15" stroke="#fff" stroke-width="1.5" stroke-dasharray="1.2 0.95" fill="none"/>
<g fill="none" stroke="#a7a9ac" stroke-width="0.85">
<rect x="1160.4" y="253" width="8.5" height="13.4" rx="4.25"/>
<path d="M1160.4 258.1h8.5M1164.65 252.5v5.6"/>
</g>
<rect x="1115.3" y="273.6" width="24" height="49.8" rx="3.6" fill="#fff" stroke="#231f20" stroke-width="1.4"/>
<path d="M1117.6 273.85H1137M1117.6 323.15H1137" stroke="#231f20" stroke-width="1.9" fill="none"/>
<path d="M1117.7 274.1V322.9M1136.9 274.1V322.9" stroke="#231f20" stroke-width="0.9" fill="none"/>
<rect x="1122.5" y="278.5" width="6" height="40" fill="#fff" stroke="#231f20" stroke-width="1"/>
<rect x="1152.1" y="273.6" width="24" height="49.8" rx="3.6" fill="#fff" stroke="#231f20" stroke-width="1.4"/>
<path d="M1154.4 273.85H1173.8M1154.4 323.15H1173.8" stroke="#231f20" stroke-width="1.9" fill="none"/>
<path d="M1154.5 274.1V322.9M1173.7 274.1V322.9" stroke="#231f20" stroke-width="0.9" fill="none"/>
<rect x="1159.5" y="278.5" width="6" height="40" fill="#fff" stroke="#231f20" stroke-width="1"/>
<circle cx="1207.5" cy="245" r="12.95" fill="#fff" stroke="#2e2d2f" stroke-width="1.3"/>
<circle cx="1207.5" cy="245" r="11" fill="none" stroke="#2e2d2f" stroke-width="1.15"/>
<circle cx="1207.5" cy="245" r="6.75" fill="none" stroke="#2e2d2f" stroke-width="1.25"/>
<circle cx="1207.5" cy="301.2" r="12.95" fill="#fff" stroke="#2e2d2f" stroke-width="1.3"/>
<circle cx="1207.5" cy="301.2" r="11" fill="none" stroke="#2e2d2f" stroke-width="1.15"/>
<circle cx="1207.5" cy="301.2" r="6.75" fill="none" stroke="#2e2d2f" stroke-width="1.25"/>
<g fill="none" stroke="#c4c6c8" stroke-width="1.0"><rect x="1214.2" y="209.6" width="5.4" height="10.6" rx="2.7"/><path d="M1214.2 214.1h5.4" stroke-width="0.8"/><path d="M1212.1 214.4v2.1a4.8 4.8 0 0 0 9.6 0v-2.1"/><path d="M1216.9 221.3v1.3M1215.3 222.4h3.2"/></g>
<g fill="none" stroke="#c4c6c8" stroke-width="1.15"><path d="M1212 323.5v-2.6a5.2 5.2 0 0 1 10.4 0v2.6"/></g><rect x="1212.8" y="320.6" width="1.8" height="5.2" rx="0.5" fill="#c4c6c8"/><rect x="1219.8" y="320.6" width="1.8" height="5.2" rx="0.5" fill="#c4c6c8"/>
</g>
<g id="usbhub">
<rect x="1237.6" y="274" width="23.9" height="50.1" rx="3.6" fill="#fff" stroke="#231f20" stroke-width="1.4"/>
<path d="M1239.9 323.7H1259.2" stroke="#231f20" stroke-width="2.2" fill="none"/>
<path d="M1239.9 275.9H1259.2" stroke="#231f20" stroke-width="0.9" fill="none"/>
<path d="M1240 274.5V323.6M1259.1 274.5V323.6" stroke="#231f20" stroke-width="0.9" fill="none"/>
<rect x="1244.5" y="278.5" width="6" height="41" fill="#fff" stroke="#231f20" stroke-width="1"/>
<g fill="#231f20" stroke="none"><circle cx="1243.1" cy="260.6" r="1.35"/><path d="M1256.4 259.2l3.2 1.4-3.2 1.4z"/><rect x="1253.5" y="262.7" width="2.7" height="2.3"/><circle cx="1252.3" cy="257.7" r="1.1"/></g>
<path d="M1243.2 260.6H1257M1246.4 260.6L1249.4 257.7H1252.3M1248.3 260.7L1251.2 263.85H1254.5" fill="none" stroke="#231f20" stroke-width="1"/>
</g>
<g id="callouts">
<path d="M139.5 140V264.5H230" fill="none" stroke="#231f20" stroke-width="3" stroke-linejoin="miter"/><ellipse cx="230.7" cy="264.2" rx="4.1" ry="4.1" fill="#231f20"/>
<path d="M195.5 323V502" fill="none" stroke="#231f20" stroke-width="3" stroke-linejoin="miter"/><ellipse cx="196" cy="323.2" rx="4.1" ry="4.1" fill="#231f20"/>
<path d="M333.5 96.3V233" fill="none" stroke="#231f20" stroke-width="3" stroke-linejoin="miter"/><ellipse cx="333.3" cy="233.2" rx="3.9" ry="4.5" fill="#231f20"/>
<path d="M515.5 96.3V233" fill="none" stroke="#231f20" stroke-width="3" stroke-linejoin="miter"/><ellipse cx="515.2" cy="233.2" rx="3.9" ry="4.5" fill="#231f20"/>
<path d="M693.5 96.3V233" fill="none" stroke="#231f20" stroke-width="3" stroke-linejoin="miter"/><ellipse cx="693.3" cy="233.2" rx="3.9" ry="4.5" fill="#231f20"/>
<path d="M869.5 96.3V233" fill="none" stroke="#231f20" stroke-width="3" stroke-linejoin="miter"/><ellipse cx="869.5" cy="233" rx="3.9" ry="4.5" fill="#231f20"/>
<path d="M1085.5 96.3V233" fill="none" stroke="#231f20" stroke-width="3" stroke-linejoin="miter"/><ellipse cx="1085.8" cy="233.1" rx="4.1" ry="4.1" fill="#231f20"/>
<path d="M834.5 338V453.5M753.4 453.5H880.5V338" fill="none" stroke="#231f20" stroke-width="3" stroke-linejoin="miter"/><ellipse cx="834.4" cy="338.2" rx="4.1" ry="4.1" fill="#231f20"/><ellipse cx="880.7" cy="338.2" rx="4.1" ry="4.1" fill="#231f20"/>
<path d="M1016.5 338V519.5M912.3 519.5H1064.5V338" fill="none" stroke="#231f20" stroke-width="3" stroke-linejoin="miter"/><ellipse cx="1016.8" cy="338.3" rx="4.1" ry="4.1" fill="#231f20"/><ellipse cx="1064.8" cy="338.3" rx="4.1" ry="4.1" fill="#231f20"/>
<path d="M1123.5 332.5V519.5H1167.5V332.5" fill="none" stroke="#231f20" stroke-width="3" stroke-linejoin="miter"/><ellipse cx="1123.7" cy="332.6" rx="4.1" ry="4.1" fill="#231f20"/><ellipse cx="1167.5" cy="332.6" rx="4.1" ry="4.1" fill="#231f20"/>
<path d="M1246.5 332V418.8" fill="none" stroke="#231f20" stroke-width="3" stroke-linejoin="miter"/><ellipse cx="1246.8" cy="332" rx="4.1" ry="4.1" fill="#231f20"/>
</g>
<g id="labels" stroke="#231f20" stroke-width="0.5" stroke-linejoin="round">
<text x="58.8" y="115.75" font-size="24.8" textLength="163.54" lengthAdjust="spacingAndGlyphs">Port Indicators</text>
<text x="257.73" y="61.6" font-size="24.8" textLength="150.93" lengthAdjust="spacingAndGlyphs">4th Computer</text>
<text x="275.02" y="90.7" font-size="24.8" textLength="116.53" lengthAdjust="spacingAndGlyphs">Port A &amp; B</text>
<text x="439.26" y="61.6" font-size="24.8" textLength="152.02" lengthAdjust="spacingAndGlyphs">3rd Computer</text>
<text x="457.86" y="90.7" font-size="24.8" textLength="115.62" lengthAdjust="spacingAndGlyphs">Port A &amp; B</text>
<text x="614.85" y="61.6" font-size="24.8" textLength="156.46" lengthAdjust="spacingAndGlyphs">2nd Computer</text>
<text x="635.11" y="90.7" font-size="24.8" textLength="116.41" lengthAdjust="spacingAndGlyphs">Port A &amp; B</text>
<text x="795.37" y="61.6" font-size="24.8" textLength="148.21" lengthAdjust="spacingAndGlyphs">1st Computer</text>
<text x="811" y="90.7" font-size="24.8" textLength="116.51" lengthAdjust="spacingAndGlyphs">Port A &amp; B</text>
<text x="1016.89" y="61.6" font-size="24.8" textLength="138.73" lengthAdjust="spacingAndGlyphs">VGA Console</text>
<text x="1027.97" y="90.7" font-size="24.8" textLength="115.41" lengthAdjust="spacingAndGlyphs">Port A &amp; B</text>
<text x="113.08" y="539.7" font-size="24.8" textLength="164.1" lengthAdjust="spacingAndGlyphs">DC Power Jack</text>
<text x="297.63" y="381.6" font-size="24.8" textLength="412.59" lengthAdjust="spacingAndGlyphs">Additional Computer Audio/Mic Jacks</text>
<text x="602.27" y="454.6" font-size="24.8" textLength="148.83" lengthAdjust="spacingAndGlyphs">1st Computer</text>
<text x="641.94" y="483.6" font-size="24.8" textLength="109.43" lengthAdjust="spacingAndGlyphs">Audio/Mic</text>
<text x="594.71" y="512.6" font-size="24.8" textLength="157.07" lengthAdjust="spacingAndGlyphs">Console Jacks</text>
<text x="797.71" y="523.6" font-size="24.8" textLength="108.95" lengthAdjust="spacingAndGlyphs">Audio/Mic</text>
<text x="749.64" y="552.6" font-size="24.8" textLength="156.44" lengthAdjust="spacingAndGlyphs">Console Jacks</text>
<text x="1073.84" y="550.7" font-size="24.8" textLength="142.5" lengthAdjust="spacingAndGlyphs">USB Console</text>
<text x="1122.04" y="579.7" font-size="24.8" textLength="46.53" lengthAdjust="spacingAndGlyphs">Port</text>
<text x="1199.77" y="441.7" font-size="24.8" textLength="99.15" lengthAdjust="spacingAndGlyphs">USB Hub</text>
<text x="1215.75" y="470.7" font-size="24.8" textLength="66.96" lengthAdjust="spacingAndGlyphs">Port 2</text>
</g>
</svg>
</body></html>
